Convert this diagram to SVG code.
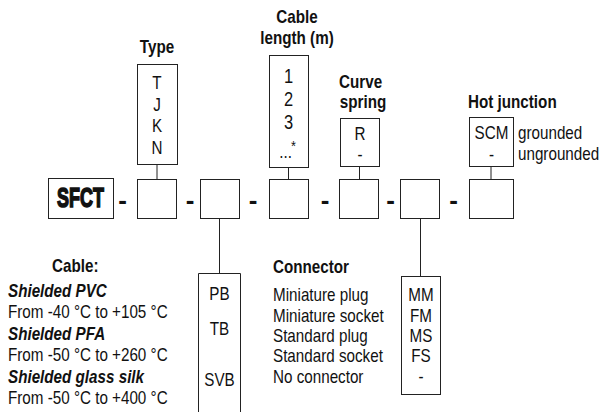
<svg xmlns="http://www.w3.org/2000/svg" width="599" height="412" viewBox="0 0 599 412">
<style>
text{font-family:"Liberation Sans",Arial,sans-serif;fill:#111;font-size:18px}
.b{font-weight:bold}
.bi{font-weight:bold;font-style:italic}
.c{text-anchor:middle}
.big{font-size:19.5px}
.box{fill:#fff;stroke:#222;stroke-width:1}
.ln{stroke:#222;stroke-width:1;fill:none}
.dash{font-weight:bold;font-size:26px;text-anchor:middle}
</style>
<rect width="599" height="412" fill="#fff"/>
<g id="connectors">
<line class="ln" x1="157" y1="164" x2="157" y2="179"/>
<line class="ln" x1="288.5" y1="167" x2="288.5" y2="179"/>
<line class="ln" x1="359.5" y1="166" x2="359.5" y2="179"/>
<line class="ln" x1="491" y1="166" x2="491" y2="179"/>
<line class="ln" x1="219.5" y1="218" x2="219.5" y2="273"/>
<line class="ln" x1="420.5" y1="218" x2="420.5" y2="276"/>
</g>
<g id="sfct">
<rect class="box" x="48.5" y="178.5" width="65" height="40"/>
<g transform="translate(80.5 0) scale(0.64 1)">
<text x="0" y="207" class="c b" style="font-size:28px" stroke="#111" stroke-width="1.6">SFCT</text>
</g>
</g>
<g id="dashes">
<text class="dash" x="122.5" y="208.5">-</text>
<text class="dash" x="190" y="208.5">-</text>
<text class="dash" x="253" y="208.5">-</text>
<text class="dash" x="325" y="208.5">-</text>
<text class="dash" x="390.5" y="208.5">-</text>
<text class="dash" x="453.5" y="208.5">-</text>
</g>
<g id="slot1"><rect class="box" x="137.5" y="179.5" width="39" height="39"/></g>
<g id="slot2"><rect class="box" x="200.5" y="179.5" width="39" height="39"/></g>
<g id="slot3"><rect class="box" x="269.5" y="179.5" width="39" height="39"/></g>
<g id="slot4"><rect class="box" x="339.5" y="179.5" width="39" height="39"/></g>
<g id="slot5"><rect class="box" x="400.5" y="179.5" width="39" height="39"/></g>
<g id="slot6"><rect class="box" x="469.5" y="179.5" width="44" height="39"/></g>
<g id="type">
<rect class="box" x="137.5" y="64.5" width="40" height="100"/>
<g transform="translate(157 0) scale(0.845 1)">
<text class="b c" x="0" y="53">Type</text>
<text class="c" x="0" y="89">T</text>
<text class="c" x="0" y="111">J</text>
<text class="c" x="0" y="132">K</text>
<text class="c" x="0" y="154">N</text>
</g>
</g>
<g id="cable-length">
<rect class="box" x="269.5" y="55.5" width="39" height="112"/>
<g transform="translate(297 0) scale(0.845 1)">
<text class="b c" x="0" y="23">Cable</text>
<text class="b c" x="0" y="44">length (m)</text>
</g>
<g transform="translate(288.5 0) scale(0.845 1)">
<text class="c big" x="0" y="83">1</text>
<text class="c big" x="0" y="106">2</text>
<text class="c big" x="0" y="129">3</text>
<text x="-11" y="158">...</text>
<text x="3" y="151" style="font-size:15px">*</text>
</g>
</g>
<g id="curve-spring">
<rect class="box" x="340.5" y="118.5" width="39" height="48"/>
<g transform="translate(339 0) scale(0.845 1)">
<text class="b" x="0" y="88">Curve</text>
<text class="b" x="1" y="108">spring</text>
</g>
<g transform="translate(360 0) scale(0.845 1)">
<text class="c" x="0" y="140">R</text>
<text class="c" x="0" y="161">-</text>
</g>
</g>
<g id="hot-junction">
<rect class="box" x="469.5" y="117.5" width="44" height="49"/>
<g transform="translate(468 0) scale(0.845 1)">
<text class="b" x="0" y="108">Hot junction</text>
</g>
<g transform="translate(491.5 0) scale(0.845 1)">
<text class="c" x="0" y="139">SCM</text>
<text class="c" x="0" y="161">-</text>
</g>
<g transform="translate(518 0) scale(0.845 1)">
<text x="0" y="139">grounded</text>
<text x="0" y="160">ungrounded</text>
</g>
</g>
<g id="cable">
<g transform="translate(52 0) scale(0.845 1)">
<text class="b" x="0" y="272">Cable:</text>
</g>
<g transform="translate(8 0) scale(0.845 1)">
<text class="bi" x="0" y="297">Shielded PVC</text>
<text x="0" y="318">From -40 °C to +105 °C</text>
<text class="bi" x="0" y="340">Shielded PFA</text>
<text x="0" y="361">From -50 °C to +260 °C</text>
<text class="bi" x="0" y="383">Shielded glass silk</text>
<text x="0" y="404">From -50 °C to +400 °C</text>
</g>
<path class="ln" d="M198.5,413 V273.5 H240.5 V413"/>
<g transform="translate(219.5 0) scale(0.845 1)">
<text class="c" x="0" y="300">PB</text>
<text class="c" x="0" y="335">TB</text>
<text class="c" x="0" y="386">SVB</text>
</g>
</g>
<g id="connector">
<rect class="box" x="401.5" y="276.5" width="39" height="118"/>
<g transform="translate(273 0) scale(0.845 1)">
<text class="b" x="0" y="273">Connector</text>
<text x="0" y="301">Miniature plug</text>
<text x="0" y="322">Miniature socket</text>
<text x="0" y="342">Standard plug</text>
<text x="0" y="362">Standard socket</text>
<text x="0" y="383">No connector</text>
</g>
<g transform="translate(421 0) scale(0.845 1)">
<text class="c" x="0" y="301">MM</text>
<text class="c" x="0" y="322">FM</text>
<text class="c" x="0" y="342">MS</text>
<text class="c" x="0" y="362">FS</text>
<text class="c" x="0" y="383">-</text>
</g>
</g>
</svg>
